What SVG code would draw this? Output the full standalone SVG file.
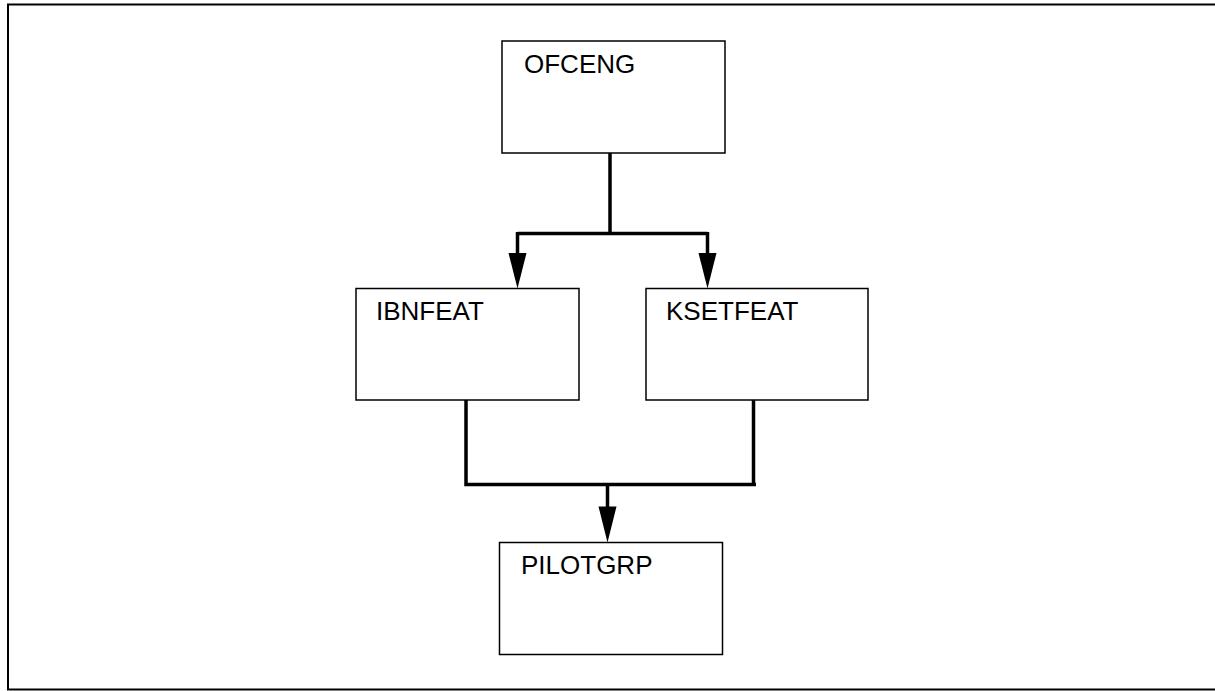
<svg xmlns="http://www.w3.org/2000/svg" width="1215" height="691" viewBox="0 0 1215 691">
<style>
.box{fill:#fff;stroke:#000;stroke-width:1.5}
.lbl{font-family:"Liberation Sans",Arial,sans-serif;font-size:26px;fill:#000}
.ln{fill:none;stroke:#000;stroke-width:3.5}
.head{fill:#000}
</style>
<rect x="8" y="4.5" width="1210" height="685" fill="#fff" stroke="#000" stroke-width="2"/>
<g id="OFCENG"><rect class="box" x="502" y="41" width="223" height="112"/><text class="lbl" x="524" y="73">OFCENG</text></g>
<g id="IBNFEAT"><rect class="box" x="356" y="288.5" width="223" height="111.5"/><text class="lbl" x="376" y="320">IBNFEAT</text></g>
<g id="KSETFEAT"><rect class="box" x="646" y="288.5" width="222" height="111.5"/><text class="lbl" x="666" y="320">KSETFEAT</text></g>
<g id="PILOTGRP"><rect class="box" x="499.5" y="542.5" width="223" height="112"/><text class="lbl" x="521" y="574">PILOTGRP</text></g>
<g id="connectors">
<path class="ln" d="M610,153 V233.5"/>
<path class="ln" d="M517.5,233.5 H707.5"/>
<line x1="517.5" y1="232" x2="517.5" y2="254" stroke="#000" stroke-width="3.5"/>
<path class="head" d="M508.5,253 H526.5 L517.5,288.5 Z"/>
<line x1="707.5" y1="232" x2="707.5" y2="254" stroke="#000" stroke-width="3.5"/>
<path class="head" d="M698.5,253 H716.5 L707.5,288.5 Z"/>
<path class="ln" d="M466,400 V484.5 H756"/>
<path class="ln" d="M753.5,400 V484.5"/>
<line x1="607.5" y1="484" x2="607.5" y2="507" stroke="#000" stroke-width="3.5"/>
<path class="head" d="M598.5,506.5 H616.5 L607.5,542.5 Z"/>
</g>
</svg>
